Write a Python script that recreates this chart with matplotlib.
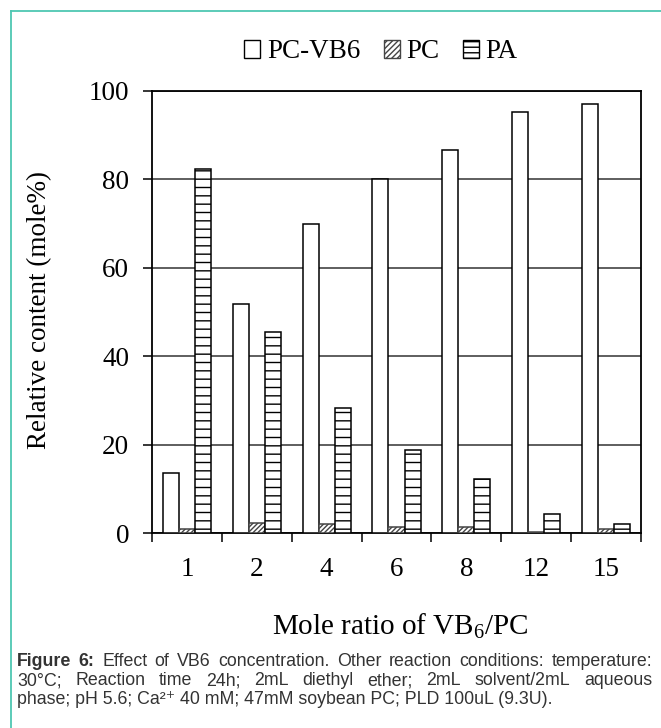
import matplotlib
matplotlib.use("Agg")
import matplotlib.pyplot as plt
import numpy as np
from matplotlib.patches import Patch
from matplotlib.lines import Line2D

# ---- data ----
categories = ["1", "2", "4", "6", "8", "12", "15"]
pc_vb6 = [13.6, 51.9, 69.9, 80.2, 86.7, 95.2, 97.0]
pc = [1.0, 2.4, 2.1, 1.5, 1.5, 0.4, 1.0]
pa = [82.3, 45.5, 28.4, 18.8, 12.3, 4.4, 2.2]
series_names = ["PC-VB6", "PC", "PA"]
yticks = [0, 20, 40, 60, 80, 100]

sans = ['Liberation Sans', 'DejaVu Sans']
serif = 'Liberation Serif'
plt.rcParams['mathtext.fontset'] = 'custom'
plt.rcParams['mathtext.rm'] = serif
plt.rcParams['hatch.linewidth'] = 1.0

W, H = 661, 728
fig = plt.figure(figsize=(W / 100, H / 100), dpi=100)
ax = fig.add_axes([152 / W, 1 - 533.3 / H, (641 - 152) / W, (533.3 - 91) / H])

fs = 19.5
x = np.arange(len(categories))
w = 0.23
ax.bar(x - w, pc_vb6, w, facecolor='white', edgecolor='black', linewidth=1.1, zorder=3)
ax.bar(x, pc, w, facecolor='white', edgecolor='#444444', hatch='///////', linewidth=1.1, zorder=3)
ax.bar(x + w, pa, w, facecolor='white', edgecolor='black', hatch='--', linewidth=1.1, zorder=3)

ax.set_xlim(-0.5, len(categories) - 0.5)
ax.set_ylim(0, 100)
ax.set_yticks(yticks)
ax.set_yticklabels([str(v) for v in yticks], fontfamily=serif, fontsize=fs)
ax.set_xticks(x)
ax.set_xticklabels(categories, fontfamily=serif, fontsize=fs)
ax.set_xticks(np.arange(-0.5, len(categories), 1.0), minor=True)
ax.tick_params(axis='x', which='major', length=0, pad=17)
ax.tick_params(axis='x', which='minor', length=6.5, width=1.1, direction='out')
ax.tick_params(axis='y', which='major', length=6.5, width=1.1, direction='out', pad=10)
ax.yaxis.grid(True, color='#333333', linewidth=1.1, zorder=0)
ax.set_axisbelow(True)
for s in ax.spines.values():
    s.set_linewidth(1.3)
    s.set_color('black')

# legend
handles = [
    Patch(facecolor='white', edgecolor='black', linewidth=1.0),
    Patch(facecolor='white', edgecolor='#444444', hatch='//////', linewidth=1.0),
    Patch(facecolor='white', edgecolor='black', hatch='---', linewidth=1.0),
]
fig.legend(handles, series_names, loc='center', bbox_to_anchor=(381 / W, 1 - 52 / H),
           ncol=3, frameon=False, prop={'family': serif, 'size': fs},
           handlelength=0.6, handleheight=0.6, handletextpad=0.25, columnspacing=0.85)

# axis labels
fig.text(40 / W, 1 - 310 / H, "Relative content (mole%)", rotation=90, ha='center', va='center',
         fontfamily=serif, fontsize=fs)
fig.text(400 / W, 1 - 626 / H, r"Mole ratio of VB$_{\mathrm{6}}$/PC", ha='center', va='center',
         fontfamily=serif, fontsize=21)

# teal frame
teal = '#4ec7b2'
fig.add_artist(Line2D([11 / W, 11 / W], [0, 1 - 11 / H], color=teal, linewidth=1.3, transform=fig.transFigure))
fig.add_artist(Line2D([11 / W, 1], [1 - 11 / H, 1 - 11 / H], color=teal, linewidth=1.3, transform=fig.transFigure))

# caption (justified)
cap_fs = 12.8
cap_color = '#333333'
x0, x1 = 17 / W, 652 / W
lines = [
    [("Figure", 'bold'), ("6:", 'bold'), ("Effect", 'normal'), ("of", 'normal'), ("VB6", 'normal'),
     ("concentration.", 'normal'), ("Other", 'normal'), ("reaction", 'normal'), ("conditions:", 'normal'),
     ("temperature:", 'normal')],
    [("30\u00b0C;", 'normal'), ("Reaction", 'normal'), ("time", 'normal'), ("24h;", 'normal'),
     ("2mL", 'normal'), ("diethyl", 'normal'), ("ether;", 'normal'), ("2mL", 'normal'),
     ("solvent/2mL", 'normal'), ("aqueous", 'normal')],
]
line_y = [1 - 665.5 / H, 1 - 685 / H]
renderer = fig.canvas.get_renderer()
for words, yy in zip(lines, line_y):
    texts = [fig.text(0, yy, t, fontfamily=sans, fontsize=cap_fs, fontweight=wt, color=cap_color,
                      va='baseline', ha='left') for t, wt in words]
    widths = [t.get_window_extent(renderer).width / W for t in texts]
    gap = (x1 - x0 - sum(widths)) / (len(texts) - 1)
    cx = x0
    for t, wd in zip(texts, widths):
        t.set_x(cx)
        cx += wd + gap
fig.text(x0, 1 - 704.5 / H, "phase; pH 5.6; Ca\u00b2\u207a 40 mM; 47mM soybean PC; PLD 100uL (9.3U).",
         fontfamily=sans, fontsize=cap_fs, color=cap_color, va='baseline', ha='left')

fig.savefig("out.png", dpi=100)
